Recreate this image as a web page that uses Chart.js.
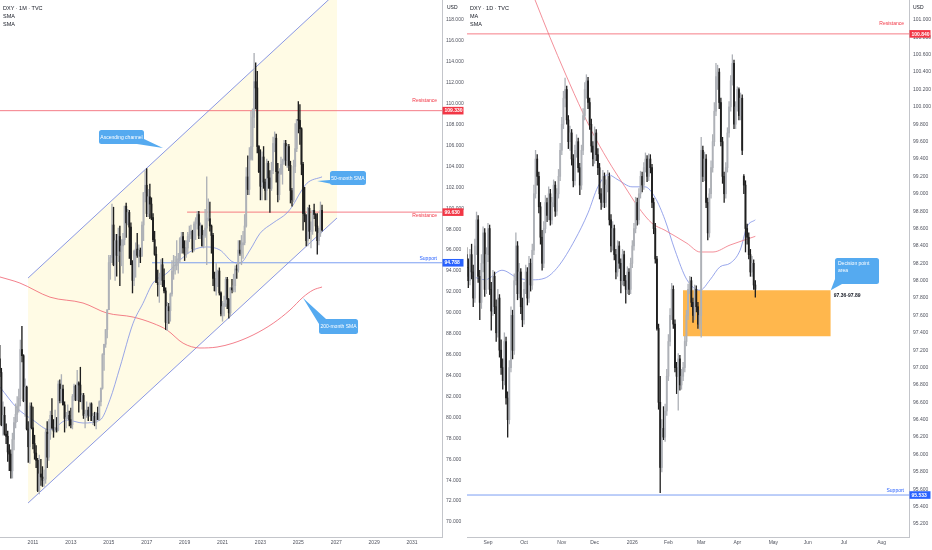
<!DOCTYPE html>
<html>
<head>
<meta charset="utf-8">
<script src="https://cdn.jsdelivr.net/npm/chart.js"></script>
<style>
    body { margin: 0; background: #fff; width: 932px; height: 550px; overflow: hidden; position: relative; }
    canvas { position: absolute; top: 0; }
    #leftChart { left: 0; }
    #rightChart { left: 467px; }
    .legend { position: absolute; top: 4px; font: 5.5px "Liberation Sans Narrow", "Liberation Sans", sans-serif; line-height: 8px; color: #131722; }
    .usd { position: absolute; top: 4px; font: 5px "Liberation Sans Narrow", "Liberation Sans", sans-serif; color: #131722; }
</style>
</head>
<body>
<canvas id="leftChart" width="467" height="550"></canvas>
<canvas id="rightChart" width="465" height="550"></canvas>
<div class="legend" style="left:3px">DXY · 1M · TVC<br>SMA<br>SMA</div>
<div class="legend" style="left:470px">DXY · 1D · TVC<br>MA<br>SMA</div>
<div class="usd" style="left:447px">USD</div>
<div class="usd" style="left:913px">USD</div>

<script>
    // ---- monthly panel (Apr 2009 .. Apr 2026), [open, high, low, close]
    const monthlyFirst = 2009 + 3 / 12;
    const monthlyOHLC = [
        // 2009
        [85.6,86.9,83.9,84.3],[84.3,84.7,79.2,79.3],[79.3,81.5,78.3,80.2],[80.2,81.0,78.3,78.4],[78.4,79.4,77.5,78.2],[78.2,78.7,75.8,76.7],[76.7,77.4,74.9,76.5],[76.5,76.9,74.2,74.9],[74.9,78.5,74.2,77.9],
        // 2010
        [77.9,80.0,76.9,79.5],[79.5,81.3,79.0,80.3],[80.3,82.0,79.6,81.1],[81.1,82.7,80.5,81.8],[81.8,87.4,81.1,86.5],[86.5,88.7,85.3,85.9],[85.9,86.0,81.5,81.6],[81.6,83.7,80.1,82.9],[82.9,83.0,78.8,78.9],[78.9,79.6,75.7,77.2],[77.2,81.4,75.6,81.1],[81.1,81.4,78.9,79.0],
        // 2011
        [79.0,81.0,77.0,77.5],[77.5,78.3,76.0,76.6],[76.6,77.3,75.2,75.9],[75.9,76.1,72.9,73.0],[73.0,76.4,72.7,74.6],[74.6,76.0,73.5,74.3],[74.3,75.3,73.4,74.0],[74.0,75.0,73.4,74.1],[74.1,78.9,73.7,78.6],[78.6,79.6,75.2,76.2],[76.2,79.8,75.9,78.4],[78.4,80.6,77.9,80.2],
        // 2012
        [80.2,81.8,78.9,79.0],[79.0,79.8,78.1,78.7],[78.7,80.7,78.6,79.0],[79.0,80.0,78.6,78.8],[78.8,83.5,78.7,83.2],[83.2,83.6,81.4,81.6],[81.6,84.1,81.4,82.7],[82.7,83.1,81.2,81.2],[81.2,81.5,78.6,79.9],[79.9,80.5,79.0,79.9],[79.9,81.2,79.9,80.2],[80.2,80.6,79.2,79.8],
        // 2013
        [79.8,80.9,79.0,79.3],[79.3,82.2,78.9,82.0],[82.0,83.2,81.6,83.0],[83.0,83.1,81.6,81.7],[81.7,84.5,81.6,83.3],[83.3,83.4,80.5,83.1],[83.1,84.8,81.6,81.5],[81.5,82.3,80.8,82.1],[82.1,82.3,79.9,80.2],[80.2,80.7,79.0,80.2],[80.2,81.5,80.0,80.7],[80.7,81.0,79.7,80.2],
        // 2014
        [80.2,81.4,80.1,81.3],[81.3,81.4,79.7,79.7],[79.7,80.4,79.3,80.1],[80.1,80.5,79.2,79.5],[79.5,80.5,78.9,80.4],[80.4,81.0,79.8,79.8],[79.8,81.6,79.7,81.5],[81.5,82.8,81.1,82.8],[82.8,86.1,82.7,86.0],[86.0,87.0,84.5,87.0],[87.0,88.4,86.7,88.4],[88.4,90.3,87.6,90.3],
        // 2015
        [90.3,95.5,90.3,94.8],[94.8,95.5,93.2,95.3],[95.3,100.4,94.8,98.4],[98.4,100.1,94.5,94.6],[94.6,97.5,93.1,96.9],[96.9,97.5,93.5,95.5],[95.5,98.1,94.9,97.3],[97.3,98.3,92.6,95.9],[95.9,97.0,94.5,96.4],[96.4,97.6,93.8,97.0],[97.0,100.2,96.5,100.2],[100.2,100.5,97.2,98.6],
        // 2016
        [98.6,99.9,98.4,99.6],[99.6,99.8,95.2,98.2],[98.2,98.6,94.6,94.6],[94.6,95.0,91.9,93.1],[93.1,96.0,92.6,95.9],[95.9,96.7,93.4,96.1],[96.1,97.6,95.3,95.5],[95.5,96.5,94.4,96.0],[96.0,96.2,94.8,95.4],[95.4,98.7,95.5,98.4],[98.4,101.5,96.9,101.5],[101.5,103.6,100.6,102.2],
        // 2017
        [102.2,103.8,99.2,99.5],[99.5,101.8,99.2,101.1],[101.1,102.3,99.0,100.4],[100.4,101.0,98.9,99.1],[99.1,99.5,96.8,97.0],[97.0,97.8,95.5,95.6],[95.6,96.3,92.9,92.9],[92.9,94.1,91.6,92.7],[92.7,93.8,91.0,93.1],[93.1,95.1,92.7,94.6],[94.6,95.2,92.5,93.1],[93.1,94.2,91.9,92.1],
        // 2018
        [92.1,92.4,88.4,89.1],[89.1,91.0,88.3,90.6],[90.6,90.9,89.0,90.2],[90.2,91.9,89.2,91.8],[91.8,95.0,91.6,94.0],[94.0,95.5,93.2,94.5],[94.5,95.4,93.7,94.5],[94.5,96.9,94.1,95.1],[95.1,95.7,93.8,95.1],[95.1,97.2,94.8,97.1],[97.1,97.7,95.7,97.3],[97.3,97.7,95.7,96.2],
        // 2019
        [96.2,96.9,95.0,95.6],[95.6,96.9,95.3,96.2],[96.2,97.7,95.7,97.3],[97.3,98.3,96.8,97.5],[97.5,98.4,97.1,97.8],[97.8,97.9,95.8,96.1],[96.1,98.7,95.9,98.5],[98.5,99.1,97.0,98.9],[98.9,99.7,98.0,99.4],[99.4,99.7,97.1,97.4],[97.4,98.6,97.1,98.3],[98.3,98.4,96.4,96.4],
        // 2020
        [96.4,97.9,96.2,97.4],[97.4,99.9,97.2,98.1],[98.1,103.0,94.6,99.0],[99.0,100.9,98.8,99.0],[99.0,100.6,97.8,98.3],[98.3,98.4,95.7,97.4],[97.4,97.6,92.6,93.3],[93.3,93.9,92.1,92.1],[92.1,94.7,91.7,93.9],[93.9,94.1,92.5,94.0],[94.0,94.3,91.7,91.9],[91.9,92.0,89.7,89.9],
        // 2021
        [89.9,91.1,89.2,90.6],[90.6,91.6,89.7,90.9],[90.9,93.4,90.6,93.2],[93.2,93.4,90.4,91.3],[91.3,91.4,89.5,90.0],[90.0,92.4,89.7,92.4],[92.4,93.2,91.9,92.2],[92.2,93.7,92.0,92.6],[92.6,94.5,92.0,94.2],[94.2,94.6,93.3,94.1],[94.1,96.9,93.9,96.0],[96.0,96.9,95.5,95.7],
        // 2022
        [95.7,97.4,94.6,96.5],[96.5,97.8,95.2,96.7],[96.7,99.4,96.5,98.3],[98.3,103.9,98.2,103.0],[103.0,105.0,101.3,101.8],[101.8,105.8,101.3,104.7],[104.7,109.3,104.6,105.9],[105.9,109.5,104.6,108.7],[108.7,114.8,107.7,112.1],[112.1,113.9,109.5,111.5],[111.5,113.1,105.3,105.9],[105.9,106.0,103.4,103.5],
        // 2023
        [103.5,105.6,100.8,102.1],[102.1,105.4,100.8,104.9],[104.9,105.9,101.9,102.5],[102.5,102.8,100.8,101.7],[101.7,104.7,100.8,104.3],[104.3,104.5,101.9,102.9],[102.9,103.6,99.6,101.9],[101.9,104.4,101.7,103.6],[103.6,106.8,103.3,106.2],[106.2,107.3,105.4,106.7],[106.7,107.1,102.5,103.5],[103.5,104.3,100.6,101.3],
        // 2024
        [101.3,103.8,100.8,103.3],[103.3,104.9,103.2,104.2],[104.2,104.7,102.3,104.5],[104.5,106.5,104.2,106.2],[106.2,106.5,104.1,104.6],[104.6,106.1,103.9,105.9],[105.9,106.1,103.6,104.1],[104.1,104.5,100.5,101.7],[101.7,101.9,100.2,100.8],[100.8,104.6,100.6,104.0],[104.0,108.1,103.4,105.7],[105.7,108.5,105.4,108.5],
        // 2025
        [108.5,110.2,107.2,108.4],[108.4,109.9,106.1,107.6],[107.6,107.7,103.2,104.2],[104.2,104.4,97.9,99.5],[99.5,102.0,98.7,99.3],[99.3,99.4,96.4,96.9],[96.9,100.1,96.4,100.0],[100.0,100.3,97.1,97.8],[97.8,98.7,96.2,97.8],[97.8,99.8,97.5,99.8],[99.8,100.4,99.0,99.4],[99.4,99.5,97.8,98.3],
        // 2026
        [98.3,99.5,95.6,96.9],[96.9,98.1,96.5,97.6],[97.6,100.6,97.3,99.8],[99.8,100.3,97.8,97.9]
    ];
    const sma50Monthly = [[2009.26,82.9],[2010.16,80.9],[2011.0,79.75],[2011.9,78.8],[2012.8,79.75],[2013.64,79.47],[2014.54,79.75],[2015.06,81.7],[2015.59,84.8],[2016.28,89.0],[2016.8,90.9],[2017.33,92.85],[2018.07,93.8],[2018.76,95.05],[2019.44,96.0],[2020.18,96.3],[2020.87,96.0],[2021.55,94.86],[2021.92,94.76],[2022.45,96.0],[2022.98,97.6],[2023.67,98.6],[2024.4,99.55],[2024.72,100.3],[2025.09,101.46],[2025.46,102.4],[2026.25,103.0]];
    const sma200Monthly = [[2009.26,93.43],[2010.31,92.85],[2011.9,91.5],[2013.64,90.94],[2014.9,89.98],[2016.28,89.6],[2017.33,89.0],[2018.07,88.36],[2018.92,87.1],[2019.81,86.64],[2020.71,86.73],[2021.55,87.1],[2022.61,87.88],[2023.67,89.0],[2024.56,90.27],[2025.25,91.5],[2025.78,92.18],[2026.25,92.47]];
    const channelUpper = [[2010.74,93.33],[2027.04,120.68]];
    const channelLower = [[2010.74,71.82],[2027.04,99.07]];
    const monthlyLevels = { resistanceHigh: 109.33, resistanceLow: 99.63, support: 94.788 };
    const monthlyLevelStart = { resistanceHigh: 2009.26, resistanceLow: 2019.13, support: 2017.28 };
    const yearTicks = [2011, 2013, 2015, 2017, 2019, 2021, 2023, 2025, 2027, 2029, 2031];
    const monthlyPriceTicks = [70,72,74,76,78,80,82,84,86,88,90,92,94,96,98,100,102,104,106,108,110,112,114,116,118];

    // ---- daily panel, x = trading day index (0 = 1 Sep 2025)
    const dailyFirst = -13;
    const dailyOHLC = [
        [98.30,98.38,98.05,98.15],[98.15,98.25,97.92,98.00],[98.00,98.36,97.95,98.30],[98.30,98.42,98.02,98.10],[98.10,98.18,97.70,97.80],
        [97.80,98.48,97.75,98.40],[98.40,98.79,98.30,98.70],[98.70,98.75,97.98,98.05],[98.05,98.12,97.55,97.75],[97.75,98.30,97.68,98.20],
        [98.20,98.62,98.10,98.55],[98.55,98.60,97.82,97.90],[97.90,98.38,97.85,98.30],[98.30,98.66,98.22,98.60],[98.60,98.64,97.84,97.90],
        [97.90,97.98,97.43,97.65],[97.65,98.12,97.60,98.05],[98.05,98.10,97.62,97.70],[97.70,97.78,97.30,97.40],[97.40,97.90,97.35,97.80],
        [97.80,97.84,97.12,97.20],[97.20,97.32,96.92,97.00],[97.00,97.10,96.75,96.85],[96.85,97.40,96.80,97.30],[97.30,97.35,96.58,96.65],
        [96.65,96.72,96.20,96.40],[96.40,97.08,96.35,97.00],[97.00,97.70,96.95,97.60],[97.60,97.66,97.10,97.20],[97.20,98.08,97.15,98.00],
        [98.00,98.55,97.95,98.40],[98.40,98.45,97.78,97.85],[97.85,98.20,97.80,98.10],[98.10,98.14,97.62,97.70],[97.70,97.80,97.47,97.55],
        [97.55,97.98,97.50,97.90],[97.90,98.18,97.85,98.10],[98.10,98.15,97.72,97.80],[97.80,98.28,97.75,98.20],[98.20,98.25,97.88,97.95],
        [97.95,98.42,97.90,98.35],[98.35,99.10,98.30,99.00],[99.00,99.50,98.95,99.40],[99.40,99.45,99.10,99.20],[99.20,99.25,98.78,98.85],
        [98.85,98.90,98.42,98.50],[98.50,98.58,98.12,98.20],[98.20,98.68,98.15,98.60],[98.60,98.98,98.55,98.90],[98.90,98.95,98.68,98.75],
        [98.75,99.08,98.70,99.00],[99.00,99.05,98.64,98.70],[98.70,98.96,98.65,98.90],[98.90,99.16,98.85,99.10],[99.10,99.14,98.74,98.80],
        [98.80,99.06,98.75,99.00],[99.00,99.28,98.95,99.20],[99.20,99.58,99.15,99.50],[99.50,99.88,99.45,99.80],[99.80,100.18,99.75,100.10],
        [100.10,100.33,100.00,100.20],[100.20,100.24,99.80,99.85],[99.85,99.90,99.52,99.60],[99.60,99.78,99.50,99.70],[99.70,99.74,99.33,99.40],
        [99.40,99.45,99.08,99.15],[99.15,99.56,99.10,99.50],[99.50,99.68,99.42,99.60],[99.60,99.64,99.25,99.30],[99.30,99.35,98.99,99.10],
        [99.10,99.56,99.05,99.50],[99.50,99.98,99.45,99.90],[99.90,100.28,99.85,100.20],[100.20,100.37,100.10,100.30],[100.30,100.34,99.98,100.05],
        [100.05,100.10,99.74,99.80],[99.80,99.86,99.48,99.55],[99.55,99.60,99.32,99.40],[99.40,99.77,99.35,99.70],[99.70,99.74,99.38,99.45],
        [99.45,99.52,99.22,99.30],[99.30,99.35,98.94,99.00],[99.00,99.06,98.82,98.90],[98.90,99.27,98.85,99.20],[99.20,99.24,98.84,98.90],
        [98.90,99.16,98.85,99.10],[99.10,99.27,99.02,99.20],[99.20,99.24,98.64,98.70],[98.70,98.76,98.33,98.40],[98.40,98.68,98.35,98.60],
        [98.60,98.64,98.24,98.30],[98.30,98.36,98.02,98.10],[98.10,98.46,98.05,98.40],[98.40,98.45,98.14,98.20],[98.20,98.25,97.86,98.00],
        [98.00,98.36,97.95,98.30],[98.30,98.34,97.94,98.00],[98.00,98.06,97.74,97.90],[97.90,98.16,97.85,98.10],[98.10,98.14,97.84,97.90],
        [97.90,98.26,97.85,98.20],[98.20,98.46,98.15,98.40],[98.40,98.66,98.35,98.60],[98.60,98.96,98.55,98.90],[98.90,98.95,98.64,98.70],
        [98.70,99.06,98.65,99.00],[99.00,99.26,98.95,99.20],[99.20,99.25,99.02,99.10],[99.10,99.36,99.05,99.30],[99.30,99.47,99.25,99.40],
        [99.40,99.44,99.14,99.20],[99.20,99.46,99.15,99.40],[99.40,99.45,99.24,99.30],[99.30,99.34,98.84,98.90],[98.90,98.95,98.54,98.60],
        [98.60,98.66,98.20,98.25],[98.25,98.28,97.43,97.45],[97.45,97.50,96.52,96.60],[96.60,96.90,95.56,95.85],[95.85,96.40,95.80,96.30],
        [96.30,96.55,96.17,96.20],[96.20,96.58,96.15,96.50],[96.50,96.98,96.45,96.90],[96.90,97.38,96.85,97.30],[97.30,97.68,97.25,97.60],
        [97.60,97.97,97.55,97.90],[97.90,97.94,97.45,97.50],[97.50,97.55,96.95,97.00],[97.00,97.06,96.70,96.90],[96.90,97.16,96.51,97.10],
        [97.10,97.14,96.74,96.80],[96.80,96.98,96.75,96.90],[96.90,97.06,96.85,97.00],[97.00,97.36,96.95,97.30],[97.30,97.66,97.25,97.60],
        [97.60,97.96,97.55,97.90],[97.90,98.05,97.85,98.00],[98.00,98.04,97.70,97.75],[97.75,97.80,97.52,97.60],[97.60,97.95,97.55,97.90],
        [97.90,97.94,97.64,97.70],[97.70,97.75,97.45,97.50],[97.50,97.66,97.44,97.60],[97.60,99.65,97.35,99.50],[99.50,99.55,99.14,99.20],
        [99.20,99.48,99.15,99.40],[99.40,99.45,98.84,98.90],[98.90,98.95,98.47,98.55],[98.55,99.06,98.50,99.00],[99.00,99.38,98.95,99.30],
        [99.30,99.68,99.25,99.60],[99.60,100.05,99.55,99.95],[99.95,100.50,99.90,100.35],[100.35,100.48,100.20,100.40],[100.40,100.44,99.98,100.05],
        [100.05,100.10,99.55,99.60],[99.60,99.65,99.12,99.20],[99.20,99.25,98.90,99.00],[99.00,99.36,98.95,99.30],[99.30,99.76,99.25,99.70],
        [99.70,100.06,99.65,100.00],[100.00,100.36,99.95,100.30],[100.30,100.60,100.25,100.50],[100.50,100.54,99.75,99.80],[99.80,100.06,99.75,100.00],
        [100.00,100.23,99.95,100.20],[100.20,100.22,99.85,99.90],[99.90,100.16,99.85,100.10],[100.10,100.14,99.45,99.50],[99.20,99.22,99.00,99.10],
        [99.10,99.15,98.33,98.60],[98.60,98.65,98.42,98.50],[98.50,98.55,98.25,98.30],[98.30,98.36,98.05,98.10],[98.10,98.28,98.05,98.20],
        [98.20,98.24,97.90,97.95],[97.95,98.00,97.81,97.90]
    ];
    const maDaily = [[10,102.1],[28.7,101.23],[37.8,100.80],[47,100.39],[57.9,99.93],[65.2,99.65],[75.6,99.31],[83.5,99.08],[91.5,98.85],[100,98.66],[107.9,98.58],[121.3,98.43],[129.3,98.33],[137.2,98.33],[147.6,98.41],[163,98.51]];
    const smaDaily = [[-12.2,98.07],[-1.8,98.01],[8.5,98.12],[18.3,98.03],[26.8,98.01],[34.8,98.03],[42.7,98.16],[53,98.47],[61,98.78],[67,99.08],[73.2,99.22],[79.3,99.16],[87.8,99.08],[95.7,99.08],[101.8,98.96],[107.9,98.70],[114,98.35],[121.3,98.01],[129.3,97.89],[135.4,98.01],[141.5,98.16],[147.6,98.20],[153.7,98.35],[157.9,98.62],[163,98.70]];
    const dailyLevels = { resistance: 100.84, support: 95.533 };
    const decisionZone = { from: 118.9, to: 209, low: 97.36, high: 97.89 };
    const dayTickPos = [0, 22, 45, 65, 88, 110, 130, 152, 174, 195, 217, 240];
    const dayTickLabels = ['Sep', 'Oct', 'Nov', 'Dec', '2026', 'Feb', 'Mar', 'Apr', 'May', 'Jun', 'Jul', 'Aug'];
    const dailyPriceTicks = [95.2,95.4,95.6,95.8,96.0,96.2,96.4,96.6,96.8,97.0,97.2,97.4,97.6,97.8,98.0,98.2,98.4,98.6,98.8,99.0,99.2,99.4,99.6,99.8,100.0,100.2,100.4,100.6,100.8,101.0];

    // ---- styles
    const FONT = '"Liberation Sans Narrow", "Liberation Sans", sans-serif';
    const UP = '#aeb1b7', DOWN = '#1f1f1f';
    const RED = '#f23645', BLUE = '#2962ff', CALLOUT = '#55aaf0';
    const AXIS = '#c3c5ca', TICK = '#50535e';

    const pts = arr => arr.map(p => ({x: p[0], y: p[1]}));

    function candles(ohlc, xOf, bodyW, wickW) {
        const wicks = [], bodies = [], colors = [];
        ohlc.forEach((c, k) => {
            wicks.push({x: xOf(k), y: [c[2], c[1]]});
            bodies.push({x: xOf(k), y: [c[0], c[3]]});
            colors.push(c[3] >= c[0] ? UP : DOWN);
        });
        return [
            {data: wicks, backgroundColor: colors, barThickness: wickW, grouped: false, borderWidth: 0, order: 2},
            {data: bodies, backgroundColor: colors, barThickness: bodyW, grouped: false, borderWidth: 0, minBarLength: 0.8, order: 1}
        ];
    }

    function line(data, color, extra) {
        return Object.assign({type: 'line', data: pts(data), borderColor: color, borderWidth: 0.8,
            pointRadius: 0, fill: false, cubicInterpolationMode: 'monotone', order: 5}, extra || {});
    }

    function priceAxis(min, max, ticks, width) {
        return {
            type: 'linear', position: 'right', min: min, max: max,
            grid: {display: false, drawTicks: false},
            border: {display: true, color: AXIS, width: 1},
            afterBuildTicks: s => { s.ticks = ticks.map(v => ({value: v})); },
            afterFit: s => { s.width = width; s.paddingTop = 0; s.paddingBottom = 0; },
            ticks: {padding: 4, color: TICK, font: {family: FONT, size: 5}, callback: v => Number(v).toFixed(3)}
        };
    }

    function timeAxis(min, max, pos, labels) {
        return {
            type: 'linear', min: min, max: max, offset: false,
            grid: {display: false, drawTicks: false, offset: false},
            border: {display: true, color: AXIS, width: 1},
            afterBuildTicks: s => { s.ticks = pos.map(v => ({value: v})); },
            afterFit: s => { s.height = 13; s.paddingLeft = 0; s.paddingRight = 0; },
            ticks: {padding: 3, color: TICK, font: {family: FONT, size: 5}, maxRotation: 0, autoSkip: false,
                callback: (v, i) => labels[i]}
        };
    }

    function drawCallout(ctx, x, y, c) {
        const cx = x.getPixelForValue(c.at[0]), cy = y.getPixelForValue(c.at[1]);
        const l = cx - c.w / 2, t = cy - c.h / 2, r = l + c.w, b = t + c.h;
        const tx = x.getPixelForValue(c.tip[0]), ty = y.getPixelForValue(c.tip[1]);
        ctx.fillStyle = CALLOUT;
        ctx.beginPath();
        if (ctx.roundRect) ctx.roundRect(l, t, c.w, c.h, 2.5); else ctx.rect(l, t, c.w, c.h);
        ctx.fill();
        const hx = c.corner[0] === 'l' ? l : r, vy = c.corner[1] === 't' ? t : b;
        const sx = c.corner[0] === 'l' ? 1 : -1, sy = c.corner[1] === 't' ? 1 : -1;
        ctx.beginPath();
        ctx.moveTo(hx + sx * 7, vy);
        ctx.lineTo(tx, ty);
        ctx.lineTo(hx, vy + sy * 5);
        ctx.lineTo(hx + sx * 2, vy + sy * 2);
        ctx.closePath();
        ctx.fill();
        ctx.fillStyle = '#fff';
        ctx.font = '5px ' + FONT;
        ctx.textBaseline = 'middle';
        if (c.lines.length === 1) {
            ctx.textAlign = 'center';
            ctx.fillText(c.lines[0], cx, cy + 0.3);
        } else {
            ctx.textAlign = 'left';
            c.lines.forEach((s, k) => ctx.fillText(s, l + 3, t + 6 + k * 6.5));
        }
    }

    function makeOverlay(cfg) {
        return {
            id: 'overlay',
            afterDatasetsDraw(chart) {
                const {ctx, chartArea: a, scales: {x, y}} = chart;
                ctx.save();
                ctx.beginPath();
                ctx.rect(a.left, a.top, a.right - a.left, a.bottom - a.top);
                ctx.clip();
                ctx.textBaseline = 'middle';
                cfg.levelLabels.forEach(lb => {
                    ctx.font = '5px ' + FONT;
                    ctx.fillStyle = lb.color;
                    ctx.textAlign = 'right';
                    ctx.fillText(lb.text, a.right - lb.inset, y.getPixelForValue(lb.value) + lb.dy);
                });
                (cfg.notes || []).forEach(n => {
                    ctx.font = 'bold 5px ' + FONT;
                    ctx.fillStyle = '#131722';
                    ctx.textAlign = 'left';
                    ctx.fillText(n.text, x.getPixelForValue(n.x) + 3, y.getPixelForValue(n.y) + 5.5);
                });
                cfg.callouts.forEach(c => drawCallout(ctx, x, y, c));
                ctx.restore();
            },
            afterDraw(chart) {
                const {ctx, chartArea: a, scales: {y}} = chart;
                ctx.save();
                cfg.tags.forEach(tg => {
                    const py = y.getPixelForValue(tg.value);
                    ctx.fillStyle = tg.color;
                    ctx.fillRect(a.right + 0.5, py - 3.8, 21, 7.6);
                    ctx.fillStyle = '#fff';
                    ctx.font = 'bold 5px ' + FONT;
                    ctx.textAlign = 'left';
                    ctx.textBaseline = 'middle';
                    ctx.fillText(tg.value.toFixed(3), a.right + 2.5, py + 0.3);
                });
                ctx.restore();
            }
        };
    }

    const baseOptions = {
        responsive: false, animation: false, events: [],
        layout: {padding: 0},
        plugins: {legend: {display: false}, tooltip: {enabled: false}}
    };

    // ---- left: monthly
    const mMin = 2009.26, mMax = 2032.58;
    const leftSets = [
        line(channelUpper, '#6c7ee0', {order: 20, cubicInterpolationMode: 'default'}),
        line(channelLower, '#6c7ee0', {order: 21, cubicInterpolationMode: 'default', fill: '-1', backgroundColor: '#fffbe5'}),
        line([[monthlyLevelStart.resistanceHigh, monthlyLevels.resistanceHigh], [mMax, monthlyLevels.resistanceHigh]], '#f25c68', {order: 8}),
        line([[monthlyLevelStart.resistanceLow, monthlyLevels.resistanceLow], [mMax, monthlyLevels.resistanceLow]], '#f25c68', {order: 8}),
        line([[monthlyLevelStart.support, monthlyLevels.support], [mMax, monthlyLevels.support]], '#5a86f0', {order: 8}),
        line(sma50Monthly, '#7d8fe6', {order: 4}),
        line(sma200Monthly, '#f0606e', {order: 4})
    ].concat(candles(monthlyOHLC, k => monthlyFirst + k / 12, 1.25, 0.7));

    new Chart(document.getElementById('leftChart'), {
        type: 'bar',
        data: {datasets: leftSets},
        options: Object.assign({}, baseOptions, {
            scales: {
                x: timeAxis(mMin, mMax, yearTicks, yearTicks.map(String)),
                y: priceAxis(68.57, 119.91, monthlyPriceTicks, 25)
            }
        }),
        plugins: [makeOverlay({
            levelLabels: [
                {text: 'Resistance', value: monthlyLevels.resistanceHigh, dy: -10, inset: 5, color: RED},
                {text: 'Resistance', value: monthlyLevels.resistanceLow, dy: 3.5, inset: 5, color: RED},
                {text: 'Support', value: monthlyLevels.support, dy: -4.5, inset: 5, color: BLUE}
            ],
            callouts: [
                {lines: ['Ascending channel'], at: [2015.67, 106.81], w: 45, h: 14, tip: [2017.86, 105.76], corner: 'rb'},
                {lines: ['50-month SMA'], at: [2027.62, 102.89], w: 36, h: 14, tip: [2025.99, 102.6], corner: 'lb'},
                {lines: ['200-month SMA'], at: [2027.12, 88.69], w: 39, h: 15, tip: [2025.25, 91.42], corner: 'lt'}
            ],
            tags: [
                {value: monthlyLevels.resistanceHigh, color: RED},
                {value: monthlyLevels.resistanceLow, color: RED},
                {value: monthlyLevels.support, color: BLUE}
            ]
        })]
    });

    // ---- right: daily
    const dMin = -12.8, dMax = 256.7;
    const rightSets = [
        line([[decisionZone.from, decisionZone.high], [decisionZone.to, decisionZone.high]], 'rgba(0,0,0,0)', {order: 30, cubicInterpolationMode: 'default', borderWidth: 0}),
        line([[decisionZone.from, decisionZone.low], [decisionZone.to, decisionZone.low]], 'rgba(0,0,0,0)', {order: 31, cubicInterpolationMode: 'default', borderWidth: 0, fill: '-1', backgroundColor: '#ffb74d'}),
        line([[dMin, dailyLevels.resistance], [dMax, dailyLevels.resistance]], '#f25c68', {order: 8}),
        line([[dMin, dailyLevels.support], [dMax, dailyLevels.support]], '#5a86f0', {order: 8}),
        line(maDaily, '#f07480', {order: 4}),
        line(smaDaily, '#7d8fe6', {order: 4})
    ].concat(candles(dailyOHLC, k => dailyFirst + k, 1.2, 0.65));

    new Chart(document.getElementById('rightChart'), {
        type: 'bar',
        data: {datasets: rightSets},
        options: Object.assign({}, baseOptions, {
            scales: {
                x: timeAxis(dMin, dMax, dayTickPos, dayTickLabels),
                y: priceAxis(95.05, 101.23, dailyPriceTicks, 23)
            }
        }),
        plugins: [makeOverlay({
            levelLabels: [
                {text: 'Resistance', value: dailyLevels.resistance, dy: -10, inset: 5, color: RED},
                {text: 'Support', value: dailyLevels.support, dy: -4.5, inset: 5, color: BLUE}
            ],
            notes: [{text: '97.36-97.89', x: decisionZone.to, y: decisionZone.high}],
            callouts: [
                {lines: ['Decision point', 'area'], at: [225, 98.11], w: 44, h: 26, tip: [decisionZone.to, decisionZone.high], corner: 'lb'}
            ],
            tags: [
                {value: dailyLevels.resistance, color: RED},
                {value: dailyLevels.support, color: BLUE}
            ]
        })]
    });
</script>
</body>
</html>
